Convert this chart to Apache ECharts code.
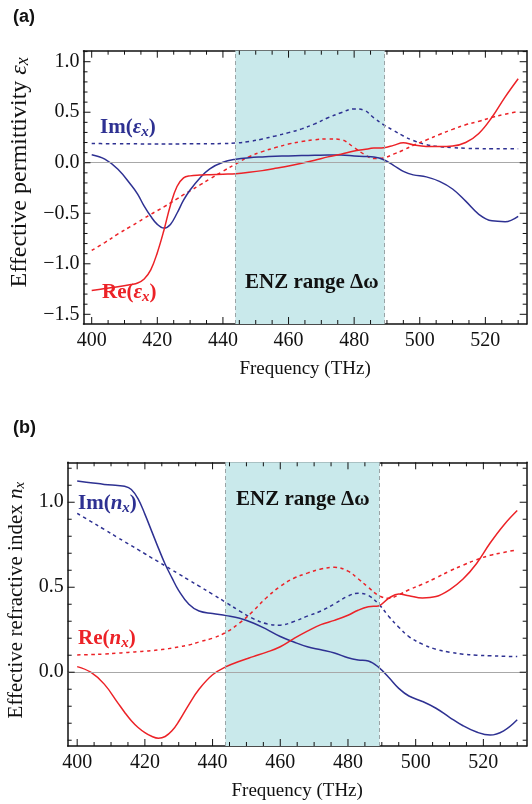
<!DOCTYPE html>
<html>
<head>
<meta charset="utf-8">
<script src="https://cdn.jsdelivr.net/npm/echarts@6/dist/echarts.min.js"></script>
<style>
  html, body { margin: 0; background: #fff; }
  #chart { width: 532px; height: 804px; }
</style>
</head>
<body>
<div id="chart"></div>
<script>
  // frequency samples (THz), shared by both panels
  var freq = [400, 404, 408, 412, 414, 416, 418, 420, 422, 424, 426, 428, 430, 433, 436, 440, 444, 448, 452, 456,
    460, 464, 468, 472, 476, 480, 483, 486, 489, 492, 495, 498, 502, 506, 510, 514, 518, 522, 526, 530]

  // (a) effective permittivity
  var reEpsSolid = [-1.264, -1.245, -1.228, -1.205, -1.19, -1.15, -1.06, -0.89, -0.67, -0.42, -0.235, -0.15, -0.13, -0.122, -0.118, -0.113, -0.108, -0.095, -0.078, -0.055,
    -0.032, -0.005, 0.025, 0.058, 0.085, 0.116, 0.13, 0.145, 0.149, 0.172, 0.198, 0.178, 0.162, 0.16, 0.165, 0.2, 0.29, 0.45, 0.65, 0.832]
  var imEpsSolid = [0.079, 0.035, -0.065, -0.22, -0.31, -0.43, -0.53, -0.61, -0.647, -0.61, -0.5, -0.37, -0.27, -0.15, -0.06, 0.005, 0.035, 0.05, 0.058, 0.064,
    0.068, 0.071, 0.074, 0.077, 0.076, 0.068, 0.062, 0.056, 0.03, -0.025, -0.085, -0.12, -0.14, -0.185, -0.26, -0.38, -0.51, -0.575, -0.583, -0.53]
  var reEpsDot = [-0.868, -0.79, -0.705, -0.628, -0.59, -0.55, -0.51, -0.474, -0.437, -0.398, -0.358, -0.316, -0.278, -0.22, -0.16, -0.084, -0.01, 0.06, 0.11, 0.15,
    0.185, 0.21, 0.228, 0.236, 0.228, 0.15, 0.085, 0.042, 0.048, 0.085, 0.125, 0.172, 0.225, 0.28, 0.33, 0.376, 0.41, 0.45, 0.48, 0.508]
  var imEpsDot = [0.19, 0.189, 0.188, 0.187, 0.187, 0.186, 0.186, 0.186, 0.186, 0.186, 0.186, 0.187, 0.187, 0.187, 0.188, 0.19, 0.195, 0.21, 0.235, 0.265,
    0.298, 0.335, 0.385, 0.445, 0.495, 0.533, 0.52, 0.445, 0.375, 0.32, 0.265, 0.22, 0.18, 0.16, 0.15, 0.143, 0.14, 0.139, 0.139, 0.139]

  // (b) effective refractive index
  var reNSolid = [0.033, 0.0, -0.07, -0.18, -0.235, -0.285, -0.325, -0.355, -0.377, -0.388, -0.378, -0.345, -0.29, -0.19, -0.1, -0.015, 0.033, 0.065, 0.092, 0.118,
    0.15, 0.198, 0.242, 0.28, 0.305, 0.335, 0.365, 0.385, 0.39, 0.435, 0.46, 0.45, 0.437, 0.445, 0.485, 0.548, 0.64, 0.76, 0.865, 0.951]
  var imNSolid = [1.125, 1.115, 1.105, 1.098, 1.094, 1.075, 1.02, 0.93, 0.83, 0.73, 0.635, 0.555, 0.48, 0.4, 0.36, 0.345, 0.333, 0.318, 0.29, 0.252,
    0.21, 0.178, 0.15, 0.132, 0.113, 0.085, 0.072, 0.066, 0.03, -0.03, -0.095, -0.14, -0.172, -0.212, -0.265, -0.315, -0.352, -0.37, -0.345, -0.28]
  var reNDot = [0.102, 0.104, 0.107, 0.112, 0.115, 0.118, 0.121, 0.124, 0.127, 0.131, 0.136, 0.142, 0.149, 0.16, 0.178, 0.2, 0.235, 0.29, 0.36, 0.44,
    0.505, 0.553, 0.583, 0.607, 0.617, 0.595, 0.55, 0.5, 0.452, 0.435, 0.455, 0.485, 0.518, 0.555, 0.595, 0.63, 0.662, 0.688, 0.705, 0.72]
  var imNDot = [0.935, 0.887, 0.84, 0.792, 0.768, 0.745, 0.721, 0.697, 0.673, 0.65, 0.626, 0.602, 0.578, 0.542, 0.507, 0.459, 0.41, 0.36, 0.315, 0.285,
    0.277, 0.298, 0.33, 0.36, 0.402, 0.448, 0.465, 0.452, 0.402, 0.33, 0.265, 0.21, 0.165, 0.135, 0.118, 0.106, 0.1, 0.097, 0.094, 0.092]

  var enzRange = [443.8, 489.3]

  // ticks
  var xMajor = [400, 420, 440, 460, 480, 500, 520]
  var xMinor = [400, 405, 410, 415, 420, 425, 430, 435, 440, 445, 450, 455, 460, 465, 470, 475, 480, 485, 490, 495, 500, 505, 510, 515, 520, 525, 530]
  var yMajorA = [-1.5, -1.0, -0.5, 0.0, 0.5, 1.0]
  var yMinorA = [-1.5, -1.4, -1.3, -1.2, -1.1, -1.0, -0.9, -0.8, -0.7, -0.6, -0.5, -0.4, -0.3, -0.2, -0.1, 0, 0.1, 0.2, 0.3, 0.4, 0.5, 0.6, 0.7, 0.8, 0.9, 1.0, 1.1]
  var yMajorB = [0.0, 0.5, 1.0]
  var yMinorB = [-0.4, -0.3, -0.2, -0.1, 0, 0.1, 0.2, 0.3, 0.4, 0.5, 0.6, 0.7, 0.8, 0.9, 1.0, 1.1, 1.2]

  var blue = '#2e3192'
  var red = '#ec2227'
  var serif = '"Liberation Serif", "DejaVu Serif", serif'

  function pairs(ys) {
    return freq.map(function (f, i) { return [f, ys[i]] })
  }

  function fmt(v) {
    return (v < 0 ? '\u2212' : '') + Math.abs(v).toFixed(1)
  }

  // frame sides, ticks are drawn by tickSeries()
  function xSide(grid, range, pos, label, name) {
    return {
      type: 'value', gridIndex: grid, position: pos, min: range[0], max: range[1],
      name: name || '', nameLocation: 'middle', nameGap: 35.5,
      nameTextStyle: {fontFamily: serif, fontSize: 19, color: '#111'},
      axisLine: {show: true, onZero: false, lineStyle: {color: '#111', width: 1.5}},
      axisTick: {show: false},
      axisLabel: {show: !!label, customValues: label ? xMajor : undefined, margin: 7,
        fontFamily: serif, fontSize: 20, color: '#111'},
      splitLine: {show: false}
    }
  }

  function ySide(grid, range, pos, labels, name, gap, size, shift) {
    return {
      type: 'value', gridIndex: grid, position: pos, min: range[0], max: range[1],
      name: name || '', nameLocation: 'middle', nameGap: gap || 40,
      nameTextStyle: {fontFamily: serif, fontSize: size, color: '#111', padding: [0, 0, 0, shift || 0],
        rich: {
          t: {fontFamily: serif, fontSize: size, color: '#111'},
          i: {fontFamily: serif, fontSize: size, fontStyle: 'italic', color: '#111'},
          s: {fontFamily: serif, fontSize: size - 6, fontStyle: 'italic', color: '#111', padding: [8, 0, 0, 0]}
        }},
      axisLine: {show: true, onZero: false, lineStyle: {color: '#111', width: 1.5}},
      axisTick: {show: false},
      axisLabel: {show: !!labels, customValues: labels || undefined, margin: 4, formatter: fmt,
        fontFamily: serif, fontSize: 20, color: '#111'},
      splitLine: {show: false}
    }
  }

  // inward ticks on all four sides of a panel
  function tickSeries(ax, xr, yr, yMajor, yMinor) {
    var data = []
    xMinor.forEach(function (v) { data.push([v, yr[0], 0, xMajor.indexOf(v) >= 0 ? 7 : 4]) })
    yMinor.forEach(function (v) { data.push([xr[0], v, 1, yMajor.indexOf(v) >= 0 ? 7 : 4]) })
    return {
      type: 'custom', xAxisIndex: ax, yAxisIndex: ax, data: data, silent: true, clip: false, z: 6,
      renderItem: function (params, api) {
        var cs = params.coordSys
        var p = api.coord([api.value(0), api.value(1)])
        var len = api.value(3)
        var style = {stroke: '#111', lineWidth: 1}
        var lines
        if (api.value(2) === 0) {
          lines = [
            {x1: p[0], y1: cs.y + cs.height, x2: p[0], y2: cs.y + cs.height - len},
            {x1: p[0], y1: cs.y, x2: p[0], y2: cs.y + len}
          ]
        } else {
          lines = [
            {x1: cs.x, y1: p[1], x2: cs.x + len, y2: p[1]},
            {x1: cs.x + cs.width, y1: p[1], x2: cs.x + cs.width - len, y2: p[1]}
          ]
        }
        return {
          type: 'group',
          children: lines.map(function (s) { return {type: 'line', shape: s, style: style} })
        }
      }
    }
  }

  var xRangeA = [397.5, 532.6]
  var xRangeB = [397.2, 532.8]
  var yRangeA = [-1.596, 1.109]
  var yRangeB = [-0.434, 1.235]

  // background series with the ENZ band and the zero line
  function backdrop(ax) {
    return {
      type: 'line', xAxisIndex: ax, yAxisIndex: ax, data: [], silent: true, z: 1,
      markArea: {silent: true, itemStyle: {color: '#c9e9eb'}, data: [[{xAxis: enzRange[0]}, {xAxis: enzRange[1]}]]},
      markLine: {
        silent: true, symbol: 'none', label: {show: false}, animation: false,
        data: [
          {yAxis: 0, lineStyle: {color: '#a8a8a8', type: 'solid', width: 1}},
          {xAxis: enzRange[0], lineStyle: {color: '#9aa4a6', type: [4, 3], width: 1}},
          {xAxis: enzRange[1], lineStyle: {color: '#9aa4a6', type: [4, 3], width: 1}}
        ]
      }
    }
  }

  function curve(ax, ys, color, dotted) {
    return {
      type: 'line', xAxisIndex: ax, yAxisIndex: ax, data: pairs(ys), smooth: 0.4,
      showSymbol: false, silent: true, z: 3,
      lineStyle: {color: color, width: 1.5, type: dotted ? [3.5, 3.5] : 'solid'}
    }
  }

  var chart = echarts.init(document.getElementById('chart'))

  var label = function (txt, x, y, color, size) {
    return {
      type: 'text', x: x, y: y, z: 10, silent: true,
      style: {
        text: txt, fill: color, textVerticalAlign: 'middle',
        font: 'bold ' + size + 'px ' + serif,
        rich: {
          b: {fontFamily: serif, fontWeight: 'bold', fontSize: size, fill: color},
          i: {fontFamily: serif, fontWeight: 'bold', fontStyle: 'italic', fontSize: size, fill: color},
          s: {fontFamily: serif, fontWeight: 'bold', fontStyle: 'italic', fontSize: 15, fill: color, padding: [9, 0, 0, 0]}
        }
      }
    }
  }

  chart.setOption({
    animation: false,
    grid: [
      {left: 83.5, top: 50.7, width: 443.2, height: 273.3, containLabel: false, outerBoundsMode: 'none'},
      {left: 67.7, top: 462.3, width: 459, height: 283.7, containLabel: false, outerBoundsMode: 'none'}
    ],
    xAxis: [
      xSide(0, xRangeA, 'bottom', true, 'Frequency (THz)'),
      xSide(0, xRangeA, 'top', false),
      xSide(1, xRangeB, 'bottom', true, 'Frequency (THz)'),
      xSide(1, xRangeB, 'top', false)
    ],
    yAxis: [
      ySide(0, yRangeA, 'left', yMajorA, '{t|Effective permittivity }{i|\u03b5}{s|x}', 40, 24, 30),
      ySide(0, yRangeA, 'right', null),
      ySide(1, yRangeB, 'left', yMajorB, '{t|Effective refractive index }{i|n}{s|x}', 27, 21, 8),
      ySide(1, yRangeB, 'right', null)
    ],
    series: [
      backdrop(0),
      curve(0, imEpsDot, blue, true),
      curve(0, reEpsDot, red, true),
      curve(0, imEpsSolid, blue, false),
      curve(0, reEpsSolid, red, false),
      tickSeries(0, xRangeA, yRangeA, yMajorA, yMinorA),
      backdrop(2),
      curve(2, imNDot, blue, true),
      curve(2, reNDot, red, true),
      curve(2, imNSolid, blue, false),
      curve(2, reNSolid, red, false),
      tickSeries(2, xRangeB, yRangeB, yMajorB, yMinorB)
    ],
    graphic: [
      {type: 'text', x: 13, y: 17, style: {text: '(a)', font: 'bold 18px "Liberation Sans", Arial, sans-serif', fill: '#111', textVerticalAlign: 'middle'}},
      {type: 'text', x: 13, y: 428, style: {text: '(b)', font: 'bold 18px "Liberation Sans", Arial, sans-serif', fill: '#111', textVerticalAlign: 'middle'}},
      label('{b|Im(}{i|\u03b5}{s|x}{b|)}', 100, 128, blue, 21),
      label('{b|Re(}{i|\u03b5}{s|x}{b|)}', 102, 293, red, 21),
      label('{b|ENZ range \u0394\u03c9}', 245, 283, '#111', 21),
      label('{b|Im(}{i|n}{s|x}{b|)}', 78, 504, blue, 21),
      label('{b|Re(}{i|n}{s|x}{b|)}', 78, 639, red, 21),
      label('{b|ENZ range \u0394\u03c9}', 236, 500, '#111', 21)
    ]
  })
</script>
</body>
</html>
